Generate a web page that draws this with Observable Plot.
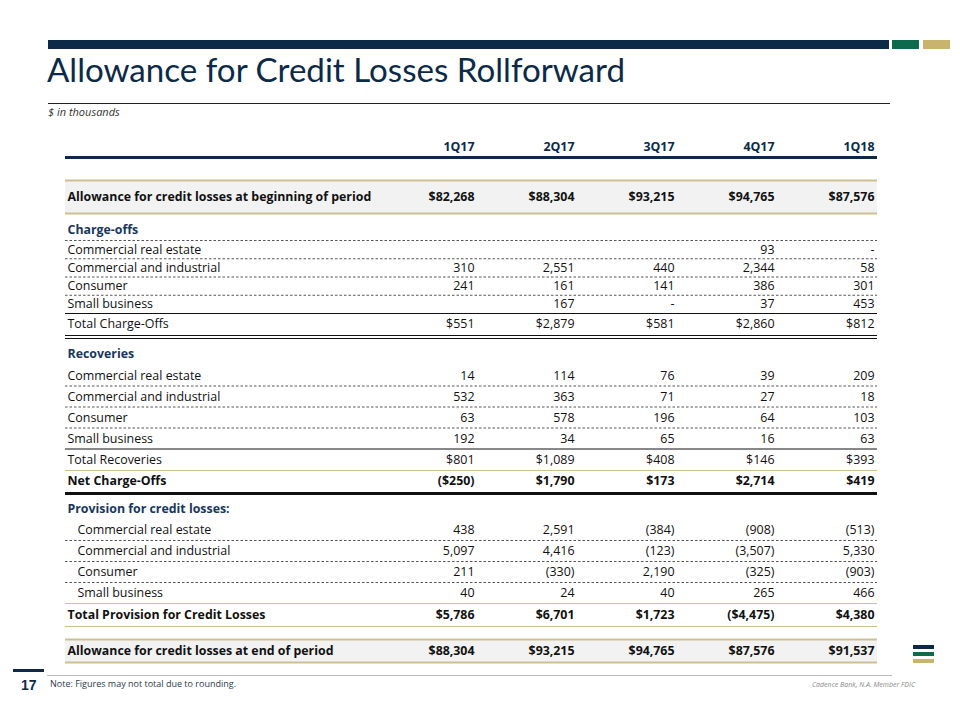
<!DOCTYPE html>
<html><head><meta charset="utf-8">
<script src="https://cdn.jsdelivr.net/npm/d3@7"></script>
<script src="https://cdn.jsdelivr.net/npm/@observablehq/plot@0.6"></script>
<style>
body{margin:0;background:#fff;}
#page{position:relative;width:960px;height:720px;overflow:hidden;font-family:"Open Sans",sans-serif;}
.abs{position:absolute;white-space:nowrap;}
</style></head><body><div id="page">
<div class="abs" style="left:48px;top:40px;width:841px;height:9px;background:#0c2a48"></div>
<div class="abs" style="left:892px;top:40px;width:27px;height:9px;background:#0d6a4c"></div>
<div class="abs" style="left:923px;top:40px;width:27px;height:9px;background:#c8b46c"></div>
<div id="title" class="abs" style="left:47px;top:53px;color:#0c2a48;font-family:Lato;font-weight:400;line-height:1">Allowance for Credit Losses Rollforward</div>
<div class="abs" style="left:48px;top:103px;width:842px;height:1px;background:#222"></div>
<div id="subtitle" class="abs" style="left:48px;top:104px;font-style:italic;font-size:11px;color:#333">$ in thousands</div>
<div id="chart" class="abs" style="left:0;top:130px"></div>
<div class="abs" style="left:47px;top:675px;width:845px;height:1px;background:#bdbdbd"></div>
<div class="abs" style="left:13px;top:669px;width:31px;height:3px;background:#0c2a48"></div>
<div class="abs" style="left:21px;top:677px;font:bold 14px 'Liberation Sans',Arial,sans-serif;color:#0c2a48">17</div>
<div class="abs" style="left:50px;top:677px;font-size:9px;color:#2b3a4a">Note: Figures may not total due to rounding.</div>
<div class="abs" style="left:812px;top:680px;font-style:italic;font-size:7px;color:#8a8a8a">Cadence Bank, N.A. Member FDIC</div>
<div class="abs" style="left:913px;top:645px;width:21px;height:4px;background:#0c2a48"></div>
<div class="abs" style="left:913px;top:652px;width:21px;height:4px;background:#0d6a4c"></div>
<div class="abs" style="left:913px;top:659px;width:21px;height:4px;background:#c8b46c"></div>
</div>
<script>
// ---------------- data ----------------
const quarters = ["1Q17", "2Q17", "3Q17", "4Q17", "1Q18"];
const itemLabels = ["Commercial real estate", "Commercial and industrial", "Consumer", "Small business"];
const beginAllowance = [82268, 88304, 93215, 94765, 87576];
const coCRE = [null, null, null, 93, 0];
const coCI = [310, 2551, 440, 2344, 58];
const coConsumer = [241, 161, 141, 386, 301];
const coSmallBusiness = [null, 167, 0, 37, 453];
const totalChargeOffs = [551, 2879, 581, 2860, 812];
const recCRE = [14, 114, 76, 39, 209];
const recCI = [532, 363, 71, 27, 18];
const recConsumer = [63, 578, 196, 64, 103];
const recSmallBusiness = [192, 34, 65, 16, 63];
const totalRecoveries = [801, 1089, 408, 146, 393];
const netChargeOffs = [-250, 1790, 173, 2714, 419];
const provCRE = [438, 2591, -384, -908, -513];
const provCI = [5097, 4416, -123, -3507, 5330];
const provConsumer = [211, -330, 2190, -325, -903];
const provSmallBusiness = [40, 24, 40, 265, 466];
const totalProvision = [5786, 6701, 1723, -4475, 4380];
const endAllowance = [88304, 93215, 94765, 87576, 91537];

const rows = [
  {label: "", kind: "head"},
  {label: "Allowance for credit losses at beginning of period", kind: "open", values: beginAllowance},
  {label: "Charge-offs", kind: "section", section: "co"},
  {label: itemLabels[0], kind: "item", section: "co", values: coCRE},
  {label: itemLabels[1], kind: "item", section: "co", values: coCI},
  {label: itemLabels[2], kind: "item", section: "co", values: coConsumer},
  {label: itemLabels[3], kind: "item", section: "co", values: coSmallBusiness},
  {label: "Total Charge-Offs", kind: "total", section: "co", values: totalChargeOffs},
  {label: "Recoveries", kind: "section", section: "rec"},
  {label: itemLabels[0], kind: "item", section: "rec", values: recCRE},
  {label: itemLabels[1], kind: "item", section: "rec", values: recCI},
  {label: itemLabels[2], kind: "item", section: "rec", values: recConsumer},
  {label: itemLabels[3], kind: "item", section: "rec", values: recSmallBusiness},
  {label: "Total Recoveries", kind: "total", section: "rec", values: totalRecoveries},
  {label: "Net Charge-Offs", kind: "net", values: netChargeOffs},
  {label: "Provision for credit losses:", kind: "section", section: "prov"},
  {label: itemLabels[0], kind: "item", section: "prov", values: provCRE},
  {label: itemLabels[1], kind: "item", section: "prov", values: provCI},
  {label: itemLabels[2], kind: "item", section: "prov", values: provConsumer},
  {label: itemLabels[3], kind: "item", section: "prov", values: provSmallBusiness},
  {label: "Total Provision for Credit Losses", kind: "provTotal", values: totalProvision},
  {label: "Allowance for credit losses at end of period", kind: "close", values: endAllowance}
];

// ---------------- styling / layout ----------------
const NAVY = "#0c2a48", SECT = "#17375e", GOLD = "#cdbf94", SHADE = "#f2f2f2", INK = "#111";
const ctx = document.createElement("canvas").getContext("2d");
function fit(text, weight, style, family, target) {
  ctx.font = `${style} normal ${weight} 100px "${family}"`;
  return 100 * target / ctx.measureText(text).width;
}
const FONT = "Open Sans";
const boldSize = fit("Allowance for credit losses at beginning of period", 700, "normal", FONT, 304);
const regSize = fit("Commercial real estate", 400, "normal", FONT, 134);
const titleEl = document.getElementById("title");
titleEl.style.fontSize = fit("Allowance for Credit Losses Rollforward", 400, "normal", "Lato", 579) + "px";

const rowHeight = {head: 27, open: 33, section: 27, total: 21.5, net: 22, provTotal: 23, close: 23};
const itemHeight = {co: 18.25, rec: 21, prov: 21};
const gapBefore = r => r.kind === "open" ? 23 : r.kind === "close" ? 13 : (r.kind === "section" && r.section === "rec") ? 3 : 0;
let acc = 0;
const laid = rows.map(r => {
  acc += gapBefore(r);
  const h = r.kind === "item" ? itemHeight[r.section] : rowHeight[r.kind];
  const o = {...r, top: acc, bottom: acc + h,
    ty: (r.kind === "head" || r.kind === "section") ? acc + h - 10.5 : acc + h / 2};
  acc += h;
  return o;
});
const H = 540;

// lines
const lines = [];
laid.forEach((r, i) => {
  const next = laid[i + 1];
  if (r.kind === "head") lines.push({y: r.bottom, t: "navy"});
  if (r.kind === "open" || r.kind === "close") { lines.push({y: r.top, t: "goldBold"}); lines.push({y: r.bottom, t: "goldBold"}); }
  if (r.kind === "section" && r.section === "co") lines.push({y: r.bottom, t: "dash"});
  if (r.kind === "item") {
    if (next && next.kind === "item") lines.push({y: r.bottom, t: "dash"});
    else lines.push({y: r.bottom, t: r.section === "prov" ? "gold" : "black"});
  }
  if (r.kind === "total" && r.section === "co") { lines.push({y: r.bottom + 0.5, t: "black"}); lines.push({y: r.bottom + 3.5, t: "black"}); }
  if (r.kind === "total" && r.section === "rec") lines.push({y: r.bottom, t: "gold"});
  if (r.kind === "net") lines.push({y: r.bottom + 1, t: "thick"});
  if (r.kind === "provTotal") lines.push({y: r.bottom, t: "gold"});
});

const fmtN = d3.format(",");
const dollarKinds = new Set(["open", "total", "net", "provTotal", "close"]);
const boldKinds = new Set(["head", "open", "section", "net", "provTotal", "close"]);
function fmt(v, dollar) {
  if (v === null || v === undefined) return "";
  if (v === 0) return "-";
  const s = (dollar ? "$" : "") + fmtN(Math.abs(v));
  return v < 0 ? `(${s})` : s;
}
const cells = [];
laid.forEach(r => {
  if (r.kind === "head") quarters.forEach(q => cells.push({q, ty: r.ty, text: q, bold: true, color: NAVY}));
  else if (r.values) r.values.forEach((v, j) => cells.push({q: quarters[j], ty: r.ty, text: fmt(v, dollarKinds.has(r.kind)), bold: boldKinds.has(r.kind), color: INK}));
});

const labelRows = laid.filter(r => r.label);
const isIndented = r => r.kind === "item" && r.section === "prov";

const chart = Plot.plot({
  width: 960, height: H,
  marginLeft: 65, marginRight: 83, marginTop: 0, marginBottom: 0,
  x: {type: "point", domain: quarters, range: [473, 875], padding: 0, axis: null},
  y: {type: "linear", domain: [0, H], range: [0, H], axis: null},
  style: {fontFamily: FONT, background: "transparent", overflow: "visible"},
  marks: [
    Plot.rect(laid.filter(r => r.kind === "open" || r.kind === "close"), {y1: "top", y2: "bottom", fill: SHADE}),
    Plot.ruleY(lines.filter(l => l.t === "dash"), {y: "y", stroke: "#555", strokeWidth: 1, strokeDasharray: "2.5,2"}),
    Plot.ruleY(lines.filter(l => l.t === "black"), {y: "y", stroke: "#111", strokeWidth: 1}),
    Plot.ruleY(lines.filter(l => l.t === "gold"), {y: "y", stroke: GOLD, strokeWidth: 1.2}),
    Plot.ruleY(lines.filter(l => l.t === "goldBold"), {y: "y", stroke: GOLD, strokeWidth: 2}),
    Plot.ruleY(lines.filter(l => l.t === "thick"), {y: "y", stroke: "#111", strokeWidth: 3}),
    Plot.ruleY(lines.filter(l => l.t === "navy"), {y: "y", stroke: NAVY, strokeWidth: 3}),
    // labels
    Plot.text(labelRows.filter(r => (r.kind === "item" || r.kind === "total") && !isIndented(r)), {
      y: "ty", text: "label", frameAnchor: "left", textAnchor: "start",
      dx: 2, fontSize: regSize, fill: INK}),
    Plot.text(labelRows.filter(isIndented), {
      y: "ty", text: "label", frameAnchor: "left", textAnchor: "start",
      dx: 12, fontSize: regSize, fill: INK}),
    Plot.text(labelRows.filter(r => r.kind === "section"), {
      y: "ty", text: "label", frameAnchor: "left", textAnchor: "start",
      dx: 2, fontSize: boldSize, fontWeight: 700, fill: SECT}),
    Plot.text(labelRows.filter(r => ["open", "close", "net", "provTotal"].includes(r.kind)), {
      y: "ty", text: "label", frameAnchor: "left", textAnchor: "start",
      dx: 2, fontSize: boldSize, fontWeight: 700, fill: INK}),
    // values
    Plot.text(cells.filter(c => !c.bold), {x: "q", y: "ty", text: "text", textAnchor: "end", fontSize: regSize, fill: INK}),
    Plot.text(cells.filter(c => c.bold), {x: "q", y: "ty", text: "text", textAnchor: "end", fontSize: boldSize, fontWeight: 700, fill: d => d.color})
  ]
});
document.getElementById("chart").appendChild(chart);
</script>
</body></html>
